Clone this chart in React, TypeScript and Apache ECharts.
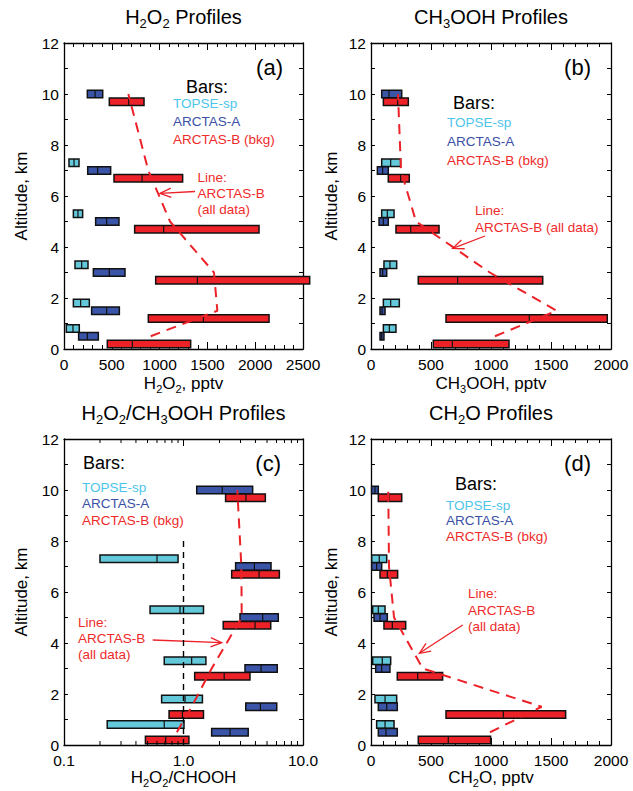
import React, { useEffect, useRef } from 'react';
import * as echarts from 'echarts';

const FONT = '"Liberation Sans", Arial, Helvetica, sans-serif';
const CYAN = '#63C8DA';
const BLUE = '#3A55A8';
const RED = '#EC2228';
const CYAN_TEXT = '#4DC5EA';
const BLUE_TEXT = '#3A4FA5';
const RED_TEXT = '#EE2A2A';

// Each row: [low, high, median, altitude km]
const h2o2Topse = [[52, 157, 105, 7.3], [98, 195, 146, 5.3], [115, 251, 185, 3.3], [98, 265, 174, 1.8], [24, 160, 94, 0.8]];
const h2o2ArctasA = [[244, 405, 325, 10], [248, 488, 352, 7], [331, 575, 446, 5], [307, 638, 474, 3], [289, 579, 446, 1.5], [153, 359, 244, 0.5]];
const h2o2ArctasB = [[474, 837, 677, 9.7], [523, 1241, 816, 6.7], [739, 2040, 1043, 4.7], [959, 2570, 1395, 2.7], [882, 2145, 1458, 1.2], [453, 1325, 715, 0.2]];
const h2o2Line = [[907, 0.5], [1604, 1.5], [1569, 3], [1109, 5], [882, 7], [673, 10]];

const chooTopse = [[89, 247, 164, 7.3], [89, 192, 136, 5.3], [108, 214, 158, 3.3], [103, 236, 164, 1.8], [103, 208, 153, 0.8]];
const chooArctasA = [[89, 256, 150, 10], [53, 144, 97, 7], [67, 144, 103, 5], [75, 131, 97, 3], [75, 117, 92, 1.5], [75, 108, 89, 0.5]];
const chooArctasB = [[103, 311, 222, 9.7], [144, 319, 247, 6.7], [208, 567, 331, 4.7], [394, 1431, 722, 2.7], [625, 1969, 1319, 1.2], [519, 1150, 678, 0.2]];
const chooLine = [[1033, 0.5], [1547, 1.5], [990, 3], [375, 5], [250, 7], [225, 10]];

const ratioTopse = [[0.2, 0.9, 0.6, 7.3], [0.525, 1.47, 0.935, 5.3], [0.69, 1.54, 1.17, 3.3], [0.656, 1.44, 1.03, 1.8], [0.23, 1.01, 0.69, 0.8]];
const ratioArctasA = [[1.29, 3.79, 2.11, 10], [2.73, 5.4, 3.92, 7], [2.97, 6.21, 4.6, 5], [3.27, 6.09, 4.46, 3], [3.32, 6.03, 4.4, 1.5], [1.72, 3.48, 2.45, 0.5]];
const ratioArctasB = [[2.25, 4.84, 3.33, 9.7], [2.53, 6.34, 4.29, 6.7], [2.15, 5.37, 3.97, 4.7], [1.24, 3.6, 2.19, 2.7], [0.757, 1.47, 0.98, 1.2], [0.48, 1.11, 0.71, 0.2]];
const ratioLine = [[0.88, 0.5], [1.17, 1.5], [1.72, 3], [3.07, 5], [3.05, 7], [2.82, 10]];
const ratioUnity = [[1, 0], [1, 8]];
const logMinorTicks = [0.2, 0.3, 0.4, 0.5, 0.6, 0.7, 0.8, 0.9, 2, 3, 4, 5, 6, 7, 8, 9];

const ch2oTopse = [[6, 131, 69, 7.3], [14, 117, 61, 5.3], [14, 164, 94, 3.3], [33, 214, 117, 1.8], [47, 192, 117, 0.8]];
const ch2oArctasA = [[5, 61, 33, 10], [6, 89, 47, 7], [25, 136, 75, 5], [39, 158, 89, 3], [61, 219, 131, 1.5], [61, 219, 125, 0.5]];
const ch2oArctasB = [[61, 256, 150, 9.7], [75, 222, 136, 6.7], [108, 289, 178, 4.7], [219, 597, 389, 2.7], [625, 1622, 1103, 1.2], [394, 997, 644, 0.2]];
const ch2oLine = [[992, 0.5], [1422, 1.5], [431, 3], [192, 5], [150, 7], [144, 10]];

const panelTitles = [
  '{n|H}{s|2}{n|O}{s|2}{n| Profiles}',
  '{n|CH}{s|3}{n|OOH Profiles}',
  '{n|H}{s|2}{n|O}{s|2}{n|/CH}{s|3}{n|OOH Profiles}',
  '{n|CH}{s|2}{n|O Profiles}',
];
const xNames = [
  '{n|H}{s|2}{n|O}{s|2}{n|, pptv}',
  '{n|CH}{s|3}{n|OOH, pptv}',
  '{n|H}{s|2}{n|O}{s|2}{n|/CHOOH}',
  '{n|CH}{s|2}{n|O, pptv}',
];
const panelTags = ['(a)', '(b)', '(c)', '(d)'];

const grids = [
  { left: 64, top: 43, width: 239, height: 306 },
  { left: 371, top: 43, width: 240, height: 306 },
  { left: 64, top: 439, width: 239, height: 306 },
  { left: 371, top: 439, width: 240, height: 306 },
];

const axisLine = { show: true, onZero: false, lineStyle: { color: '#000', width: 1.3 } };
const tickStyle = { color: '#000', width: 1 };

function yAxes(gi: number) {
  const base = {
    type: 'value', gridIndex: gi, min: 0, max: 12, interval: 1,
    axisLine, splitLine: { show: false },
    axisTick: { show: true, inside: true, length: 4, lineStyle: tickStyle },
  };
  return [
    {
      ...base, position: 'left', name: 'Altitude, km', nameLocation: 'middle',
      nameGap: gi % 2 === 0 ? 34 : 31,
      nameTextStyle: { fontSize: 17, fontFamily: FONT, color: '#000', lineHeight: 17 },
      axisLabel: {
        fontSize: 15.5, fontFamily: FONT, color: '#000', margin: 5,
        formatter: (v: number) => (v % 2 === 0 ? String(v) : ''),
      },
    },
    { ...base, position: 'right', axisLabel: { show: false } },
  ];
}

const nameRich = {
  n: { fontSize: 17, fontFamily: FONT, color: '#000', lineHeight: 22 },
  s: { fontSize: 11, fontFamily: FONT, color: '#000', lineHeight: 11, verticalAlign: 'bottom' },
};

function xAxes(gi: number, log: boolean, max: number, gap: number) {
  const base: any = log
    ? { type: 'log', logBase: 10, min: 0.1, max: 10 }
    : { type: 'value', min: 0, max, interval: 500, minorTick: { show: true, splitNumber: 5, length: 4, lineStyle: tickStyle } };
  Object.assign(base, {
    gridIndex: gi, axisLine, splitLine: { show: false }, minorSplitLine: { show: false },
    axisTick: { show: true, inside: true, length: 7, lineStyle: tickStyle },
  });
  return [
    {
      ...base, position: 'bottom', name: xNames[gi], nameLocation: 'middle', nameGap: gap,
      nameTextStyle: { rich: nameRich },
      axisLabel: {
        fontSize: 15.5, fontFamily: FONT, color: '#000', margin: 7,
        formatter: log ? (v: number) => v.toFixed(1) : (v: number) => String(v),
      },
    },
    { ...base, position: 'top', axisLabel: { show: false } },
  ];
}

function barSeries(data: number[][], color: string, gi: number) {
  return {
    type: 'custom', xAxisIndex: gi * 2, yAxisIndex: gi * 2, data, silent: true, z: 3,
    encode: { x: [0, 1, 2], y: 3 },
    renderItem: (params: any, api: any) => {
      const alt = api.value(3);
      const p0 = api.coord([api.value(0), alt]);
      const p1 = api.coord([api.value(1), alt]);
      const pm = api.coord([api.value(2), alt]);
      const h = 7.5;
      return {
        type: 'group',
        children: [
          { type: 'rect', shape: { x: p0[0], y: p0[1] - h / 2, width: p1[0] - p0[0], height: h }, style: { fill: color, stroke: '#111', lineWidth: 1.5 } },
          { type: 'line', shape: { x1: pm[0], y1: p0[1] - h / 2, x2: pm[0], y2: p0[1] + h / 2 }, style: { stroke: '#111', lineWidth: 1.2 } },
        ],
      };
    },
  };
}

function lineSeries(data: number[][], gi: number) {
  return {
    type: 'line', xAxisIndex: gi * 2, yAxisIndex: gi * 2, data, symbol: 'none', silent: true, z: 5,
    lineStyle: { color: RED, width: 2, type: [10, 7] },
  };
}

function txt(x: number, y: number, text: string, fill: string, size: number, align = 'left') {
  return { type: 'text', x, y, silent: true, style: { text, fill, fontSize: size, fontFamily: FONT, align, verticalAlign: 'middle' } };
}

function arrow(x1: number, y1: number, x2: number, y2: number) {
  const a = Math.atan2(y2 - y1, x2 - x1);
  const L = 12;
  const w = 0.4;
  const h1 = [x2 - L * Math.cos(a - w), y2 - L * Math.sin(a - w)];
  const h2 = [x2 - L * Math.cos(a + w), y2 - L * Math.sin(a + w)];
  return [
    { type: 'line', silent: true, shape: { x1, y1, x2, y2 }, style: { stroke: RED, lineWidth: 1.3 } },
    { type: 'polyline', silent: true, shape: { points: [h1, [x2, y2], h2] }, style: { stroke: RED, lineWidth: 1.3, fill: null } },
  ];
}

function title(cx: number, cy: number, text: string) {
  return {
    type: 'text', x: cx, y: cy, silent: true,
    style: {
      text, fill: '#000', align: 'center', verticalAlign: 'middle',
      rich: {
        n: { fontSize: 20, fontFamily: FONT, fill: '#000', lineHeight: 26 },
        s: { fontSize: 13, fontFamily: FONT, fill: '#000', lineHeight: 13, verticalAlign: 'bottom' },
      },
    },
  };
}

function legend(bx: number, by: number, lx: number, l1: number, step: number) {
  return [
    txt(bx, by, 'Bars:', '#000', 18),
    txt(lx, l1, 'TOPSE-sp', CYAN_TEXT, 13.5),
    txt(lx, l1 + step, 'ARCTAS-A', BLUE_TEXT, 13.5),
    txt(lx, l1 + 2 * step, 'ARCTAS-B (bkg)', RED_TEXT, 13.5),
  ];
}

export default function App() {
  const ref = useRef<HTMLDivElement>(null);
  useEffect(() => {
    if (!ref.current) return;
    const chart = echarts.init(ref.current, undefined, { renderer: 'svg' });
    const graphics: any[] = [
      title(183.5, 17, panelTitles[0]),
      title(491, 17, panelTitles[1]),
      title(183.5, 413, panelTitles[2]),
      title(491, 413, panelTitles[3]),
      txt(283, 67, panelTags[0], '#000', 22, 'right'),
      txt(591, 67, panelTags[1], '#000', 22, 'right'),
      txt(281, 463, panelTags[2], '#000', 22, 'right'),
      txt(591, 463, panelTags[3], '#000', 22, 'right'),
      ...legend(186, 87, 173, 103, 18),
      ...legend(453, 103, 447, 122, 19),
      ...legend(83, 463, 82, 487, 16.5),
      ...legend(455, 484, 446, 505, 15.5),
      txt(197.5, 177, 'Line:', RED_TEXT, 13.5),
      txt(197.5, 193.5, 'ARCTAS-B', RED_TEXT, 13.5),
      txt(197.5, 209.5, '(all data)', RED_TEXT, 13.5),
      txt(475, 210, 'Line:', RED_TEXT, 13.5),
      txt(475, 227, 'ARCTAS-B (all data)', RED_TEXT, 13.5),
      txt(78, 622, 'Line:', RED_TEXT, 13.5),
      txt(78, 638, 'ARCTAS-B', RED_TEXT, 13.5),
      txt(78, 654, '(all data)', RED_TEXT, 13.5),
      txt(468, 593, 'Line:', RED_TEXT, 13.5),
      txt(468, 610, 'ARCTAS-B', RED_TEXT, 13.5),
      txt(468, 626, '(all data)', RED_TEXT, 13.5),
      ...arrow(195, 191.5, 160, 193.3),
      ...arrow(485, 236, 452.7, 248.3),
      ...arrow(152.7, 640, 221.7, 642.7),
      ...arrow(462.7, 625, 419.3, 653.3),
    ];

    const option: any = {
      animation: false,
      backgroundColor: '#fff',
      textStyle: { fontFamily: FONT },
      grid: grids.map((g) => ({ ...g, containLabel: false })),
      xAxis: [
        ...xAxes(0, false, 2500, 23),
        ...xAxes(1, false, 2000, 23),
        ...xAxes(2, true, 10, 21),
        ...xAxes(3, false, 2000, 21),
      ],
      yAxis: [...yAxes(0), ...yAxes(1), ...yAxes(2), ...yAxes(3)],
      series: [
        barSeries(h2o2Topse, CYAN, 0), barSeries(h2o2ArctasA, BLUE, 0), barSeries(h2o2ArctasB, RED, 0), lineSeries(h2o2Line, 0),
        barSeries(chooTopse, CYAN, 1), barSeries(chooArctasA, BLUE, 1), barSeries(chooArctasB, RED, 1), lineSeries(chooLine, 1),
        barSeries(ratioTopse, CYAN, 2), barSeries(ratioArctasA, BLUE, 2), barSeries(ratioArctasB, RED, 2), lineSeries(ratioLine, 2),
        {
          type: 'line', xAxisIndex: 4, yAxisIndex: 4, data: ratioUnity, symbol: 'none', silent: true, z: 4,
          lineStyle: { color: '#000', width: 1.4, type: [6, 5] },
        },
        {
          type: 'custom', xAxisIndex: 4, yAxisIndex: 4, silent: true, z: 6,
          data: logMinorTicks.map((v) => [v, 0]),
          encode: { x: 0, y: 1 },
          renderItem: (params: any, api: any) => {
            const x = api.coord([api.value(0), 0])[0];
            const cs = params.coordSys;
            return {
              type: 'group',
              children: [
                { type: 'line', shape: { x1: x, y1: cs.y + cs.height, x2: x, y2: cs.y + cs.height - 4 }, style: { stroke: '#000', lineWidth: 1 } },
                { type: 'line', shape: { x1: x, y1: cs.y, x2: x, y2: cs.y + 4 }, style: { stroke: '#000', lineWidth: 1 } },
              ],
            };
          },
        },
        barSeries(ch2oTopse, CYAN, 3), barSeries(ch2oArctasA, BLUE, 3), barSeries(ch2oArctasB, RED, 3), lineSeries(ch2oLine, 3),
      ],
      graphic: graphics,
    };
    chart.setOption(option);
    return () => chart.dispose();
  }, []);
  return <div ref={ref} style={{ position: 'absolute', left: 0, top: 0, width: 633, height: 791, background: '#fff' }} />;
}
